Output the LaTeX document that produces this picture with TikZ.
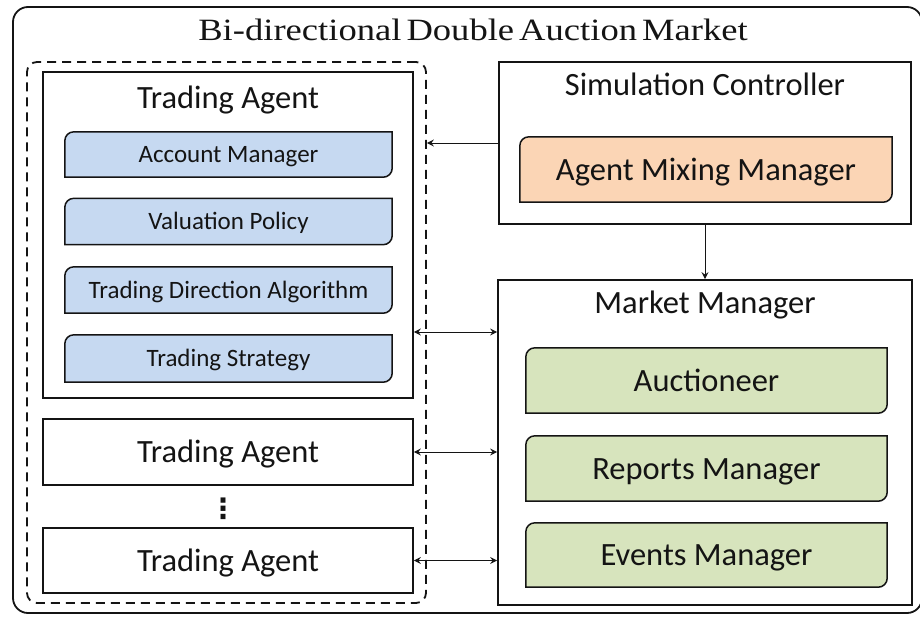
\documentclass[tikz,border=0pt]{standalone}
\usepackage{fontspec}
\setmainfont{Carlito}
\newfontfamily\titlefont[FakeStretch=1.18,WordSpace=0.55]{Liberation Serif}
\newfontfamily\symfont{DejaVu Sans}
\usetikzlibrary{arrows.meta,backgrounds}
\definecolor{bluefill}{RGB}{198,217,241}
\definecolor{orangefill}{RGB}{251,213,181}
\definecolor{greenfill}{RGB}{215,228,189}
\definecolor{ink}{RGB}{20,20,20}
\tikzset{
  plainbox/.style={draw=ink, line width=1.8pt, inner sep=0pt},
  shellbox/.style={draw=none, inner sep=0pt, text depth=0pt},
  bigtext/.style={font=\fontsize{32.5}{36}\selectfont, text=ink, text height=21pt},
  smalltext/.style={font=\fontsize{25}{28}\selectfont, text=ink, text height=16pt},
  colbox/.style={line width=1.5pt, draw=ink},
  link/.style={line width=1pt, draw=ink, -{Stealth[length=7pt,width=7pt,inset=2.5pt]}},
  dlink/.style={line width=1pt, draw=ink, {Stealth[length=7pt,width=7pt,inset=2.5pt]}-{Stealth[length=7pt,width=7pt,inset=2.5pt]}},
}
\newcommand\cornerbox[2]{%
  \begin{scope}[on background layer]
  \filldraw[colbox, fill=#2] (#1.west) [rounded corners=9pt] -- (#1.north west) -- (#1.north) [sharp corners] -- (#1.north east) -- (#1.east) [rounded corners=9pt] -- (#1.south east) -- (#1.south) [sharp corners] -- (#1.south west) -- cycle;
  \end{scope}}
\begin{document}
\begin{tikzpicture}[x=1pt,y=-1pt]
\useasboundingbox (0,0) rectangle (920,616);
\begin{scope}
\clip (0,0) rectangle (920,616);
% outer market box
\node[draw=ink, line width=1.8pt, rounded corners=15pt, minimum width=909pt, minimum height=606pt, inner sep=0pt] (outer) at (467.5,310) {};
\node[anchor=base, font=\titlefont\fontsize{31}{34}\selectfont, text=ink] (title) at (473,40) {Bi-directional Double Auction Market};
% dashed agents group
\node[draw=ink, line width=1.8pt, dash pattern=on 9pt off 6pt, rounded corners=10pt, minimum width=399pt, minimum height=541pt, inner sep=0pt] (dash) at (226.5,332.5) {};
% trading agent 1
\node[plainbox, minimum width=370pt, minimum height=326pt] (ta1) at (228,235) {};
\node[bigtext, anchor=base] (ta1t) at (228,108) {Trading Agent};
\node[shellbox, smalltext, minimum width=327pt, minimum height=45pt] (am) at (228.5,154.5) {Account Manager};
\node[shellbox, smalltext, minimum width=327pt, minimum height=46pt] (vp) at (228.5,221.5) {Valuation Policy};
\node[shellbox, smalltext, minimum width=327pt, minimum height=46pt] (tda) at (228.5,290) {Trading Direction Algorithm};
\node[shellbox, smalltext, minimum width=327pt, minimum height=47pt] (ts) at (228.5,358.5) {Trading Strategy};
\cornerbox{am}{bluefill}
\cornerbox{vp}{bluefill}
\cornerbox{tda}{bluefill}
\cornerbox{ts}{bluefill}
% trading agents 2, 3
\node[plainbox, bigtext, text depth=0pt, minimum width=370pt, minimum height=66pt] (ta2) at (228,452) {Trading Agent};
\node[plainbox, bigtext, text depth=0pt, minimum width=370pt, minimum height=65pt] (ta3) at (228,560.5) {Trading Agent};
\node[font=\symfont\bfseries\fontsize{28}{30}\selectfont, text=ink, inner sep=0pt, anchor=base] (dots) at (223,518) {⋮};
% simulation controller
\node[plainbox, minimum width=412pt, minimum height=162pt] (sc) at (705,143) {};
\node[bigtext, anchor=base] (sct) at (705,95) {Simulation Controller};
\node[shellbox, bigtext, minimum width=372pt, minimum height=65pt] (amm) at (706,169.5) {Agent Mixing Manager};
\cornerbox{amm}{orangefill}
% market manager
\node[plainbox, minimum width=414pt, minimum height=325pt] (mm) at (705,442.5) {};
\node[bigtext, anchor=base] (mmt) at (705,313) {Market Manager};
\node[shellbox, bigtext, minimum width=361pt, minimum height=65pt] (auc) at (706.5,380.5) {Auctioneer};
\node[shellbox, bigtext, minimum width=361pt, minimum height=65pt] (rep) at (706.5,468.5) {Reports Manager};
\node[shellbox, bigtext, minimum width=361pt, minimum height=64pt] (evt) at (706.5,555) {Events Manager};
\cornerbox{auc}{greenfill}
\cornerbox{rep}{greenfill}
\cornerbox{evt}{greenfill}
% connectors
\coordinate (r1) at (0,332);
\draw[link] (sc.west) -- (dash.east |- sc.west);
\draw[link] (sc.south) -- (mm.north);
\draw[dlink] (ta1.east |- r1) -- (mm.west |- r1);
\draw[dlink] (ta2.east) -- (mm.west |- ta2.east);
\draw[dlink] (ta3.east) -- (mm.west |- ta3.east);
\end{scope}
\end{tikzpicture}
\end{document}
